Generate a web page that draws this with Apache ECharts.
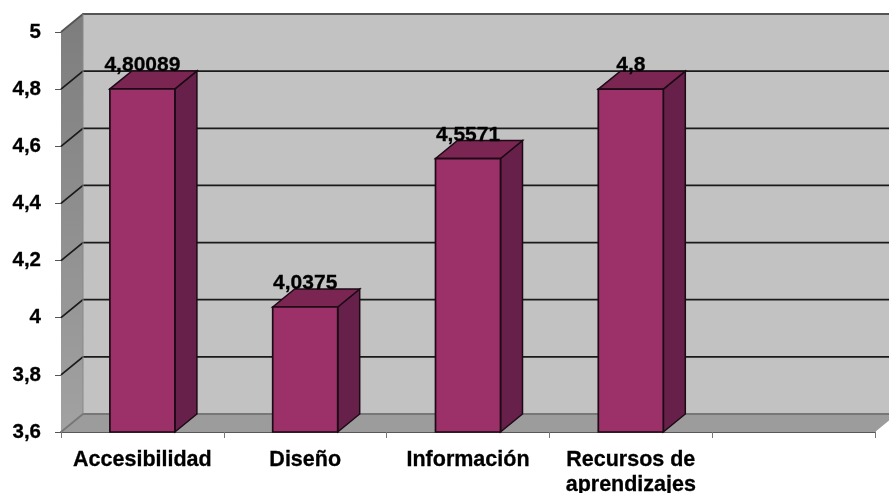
<!DOCTYPE html>
<html><head><meta charset="utf-8">
<style>html,body{margin:0;padding:0;background:#fff}#c{width:889px;height:493px}</style>
<script src="https://cdn.jsdelivr.net/npm/echarts@6/dist/echarts.min.js"></script>
</head><body><div id="c"></div>
<script>
const categories = ['Accesibilidad', 'Diseño', 'Información', 'Recursos de\naprendizajes', ''];
const values = [4.80089, 4.0375, 4.5571, 4.8, null];
const valueLabels = ['4,80089', '4,0375', '4,5571', '4,8', ''];
const yTicks = [3.6, 3.8, 4, 4.2, 4.4, 4.6, 4.8, 5];
const yMin = 3.6, yMax = 5, yStep = 0.2;
const DX = 22, DY = -18, BAR_W = 65;
const FONT = '"Liberation Sans", Arial, sans-serif';

function poly(points, fill, stroke, lw) {
  return { type: 'polygon', shape: { points }, style: { fill, stroke: stroke || 'none', lineWidth: lw || 0 } };
}
const chart = echarts.init(document.getElementById('c'), null, { renderer: 'canvas' });
chart.setOption({
  animation: false,
  backgroundColor: '#ffffff',
  grid: { left: 61, right: 14, top: 32, height: 400, containLabel: false, outerBoundsMode: 'none' },
  xAxis: {
    type: 'category', data: categories, boundaryGap: true,
    axisLine: { show: true, lineStyle: { color: '#222', width: 1.5 } },
    axisTick: { show: true, alignWithLabel: false, length: 6, lineStyle: { color: '#777', width: 1 } },
    axisLabel: { interval: 0, color: '#000', fontFamily: FONT, fontWeight: 'bold', fontSize: 21.5, margin: 16, lineHeight: 25, verticalAlign: 'top',
      textBorderColor: '#000', textBorderWidth: 0.3 }
  },
  yAxis: {
    type: 'value', min: yMin, max: yMax, interval: yStep,
    splitLine: { show: false },
    axisLine: { show: true, lineStyle: { color: '#555', width: 1 } },
    axisTick: { show: true, length: 6, lineStyle: { color: '#555', width: 1 } },
    axisLabel: { color: '#000', fontFamily: FONT, fontWeight: 'bold', fontSize: 20.5, margin: 20, padding: [7, 0, 0, 0],
      textBorderColor: '#000', textBorderWidth: 0.3,
      formatter: v => String(+v.toFixed(1)).replace('.', ',') }
  },
  series: [
    {
      type: 'custom', coordinateSystem: 'cartesian2d', z: 1, clip: false, silent: true,
      data: [[0, yMin]],
      renderItem(params, api) {
        const g = params.coordSys, L = g.x, R = g.x + g.width, T = g.y, B = g.y + g.height;
        const children = [
          poly([[L + DX, T + DY], [R + DX, T + DY], [R + DX, B + DY], [L + DX, B + DY]], '#c2c2c2'),
          poly([[L, T], [L + DX, T + DY], [L + DX, B + DY], [L, B]], {
            type: 'linear', x: 0, y: 0, x2: 0, y2: 1,
            colorStops: [{ offset: 0, color: '#7d7d7d' }, { offset: 1, color: '#a2a2a2' }] }),
          poly([[L, B], [L + DX, B + DY], [R + DX, B + DY], [R, B]], '#9c9c9c')
        ];
        yTicks.forEach(v => {
          const y = api.coord([0, v])[1];
          const top = v === yMax, bottom = v === yMin;
          children.push({ type: 'polyline',
            shape: { points: [[L, y], [L + DX, y + DY], [R + DX, y + DY]] },
            style: { fill: 'none', stroke: top ? '#555' : bottom ? '#777' : '#1a1a1a', lineWidth: top || bottom ? 1.8 : 1.7 } });
        });
        children.push({ type: 'line', shape: { x1: L + DX, y1: T + DY, x2: L + DX, y2: B + DY }, style: { stroke: '#888', lineWidth: 1 } });
        return { type: 'group', children };
      }
    },
    {
      type: 'custom', coordinateSystem: 'cartesian2d', z: 3, clip: false, silent: true,
      encode: { x: 0, y: 1 },
      data: values.map((v, i) => [i, v, valueLabels[i]]).filter(d => d[1] != null),
      renderItem(params, api) {
        const top = api.coord([api.value(0), api.value(1)]);
        const base = api.coord([api.value(0), yMin]);
        const l = top[0] - BAR_W / 2, r = top[0] + BAR_W / 2, t = top[1], b = base[1];
        const edge = '#1c0a14';
        return { type: 'group', children: [
          poly([[r, t], [r + DX, t + DY], [r + DX, b + DY], [r, b]], '#66204a', edge, 1.5),
          poly([[l, t], [l + DX, t + DY], [r + DX, t + DY], [r, t]], '#7a2552', edge, 1.5),
          poly([[l, t], [r, t], [r, b], [l, b]], '#9c3068', edge, 1.7),
          { type: 'text', z2: 10, style: { text: valueLabels[params.dataIndex], x: top[0], y: t - 23.5,
              align: 'center', verticalAlign: 'middle', fill: '#000',
              stroke: '#000', lineWidth: 0.3,
              font: 'bold 21px ' + FONT } }
        ] };
      }
    }
  ]
});
</script></body></html>
